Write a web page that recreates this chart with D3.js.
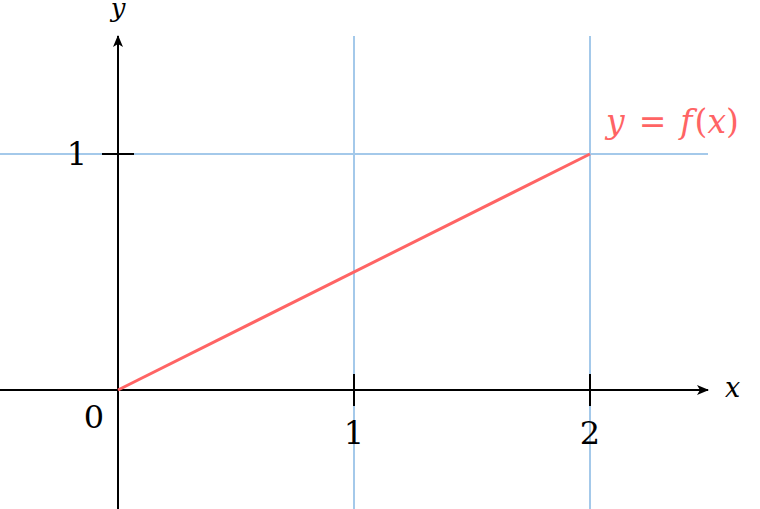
<!DOCTYPE html>
<html>
<head>
<meta charset="utf-8">
<script src="https://cdn.jsdelivr.net/npm/d3@7"></script>
<style>
  html, body { margin: 0; padding: 0; background: #fff; }
  svg { display: block; }
  svg text { font-family: "DejaVu Serif"; }
</style>
</head>
<body>
<div class="canvas"></div>
<script>
// data
const lineX = [0, 2];
const lineY = [0, 1];
const xTicks = [1, 2];
const yTicks = [1];
const xGrid = [1, 2];
const yGrid = [1];

const width = 760;
const height = 509;

const svg = d3.select('.canvas')
    .append('svg')
    .attr('width', width)
    .attr('height', height)

// scales (same unit both ways)
const x = d3.scaleLinear().domain([-0.5, 2.5]).range([0, 708]);
const y = d3.scaleLinear().domain([-0.5, 1.5]).range([508, 36]);

const red = '#ff6464';
const blue = '#a4c9ea';

// grid
svg.append('g').selectAll('line')
    .data(xGrid)
    .enter().append('line')
    .attr('x1', d => x(d)).attr('x2', d => x(d))
    .attr('y1', y(1.5)).attr('y2', height)
    .attr('stroke', blue)
    .attr('stroke-width', 2)

svg.append('g').selectAll('line')
    .data(yGrid)
    .enter().append('line')
    .attr('x1', 0).attr('x2', x(2.5))
    .attr('y1', d => y(d)).attr('y2', d => y(d))
    .attr('stroke', blue)
    .attr('stroke-width', 2)

// arrow marker
svg.append('defs').append('marker')
    .attr('id', 'arrow')
    .attr('viewBox', '0 0 12 10')
    .attr('refX', 11)
    .attr('refY', 5)
    .attr('markerWidth', 12)
    .attr('markerHeight', 10)
    .attr('markerUnits', 'userSpaceOnUse')
    .attr('orient', 'auto')
    .append('path')
    .attr('d', 'M0,0 L12,5 L0,10 L3,5 Z')
    .attr('fill', '#000')

// axes
svg.append('line')
    .attr('x1', 0).attr('x2', x(2.5))
    .attr('y1', y(0)).attr('y2', y(0))
    .attr('stroke', '#000')
    .attr('stroke-width', 2)
    .attr('marker-end', 'url(#arrow)')

svg.append('line')
    .attr('x1', x(0)).attr('x2', x(0))
    .attr('y1', height).attr('y2', y(1.5))
    .attr('stroke', '#000')
    .attr('stroke-width', 2)
    .attr('marker-end', 'url(#arrow)')

// ticks
svg.append('g').selectAll('line')
    .data(xTicks)
    .enter().append('line')
    .attr('x1', d => x(d)).attr('x2', d => x(d))
    .attr('y1', y(0) - 16).attr('y2', y(0) + 16)
    .attr('stroke', '#000')
    .attr('stroke-width', 2)

svg.append('g').selectAll('line')
    .data(yTicks)
    .enter().append('line')
    .attr('x1', x(0) - 16).attr('x2', x(0) + 16)
    .attr('y1', d => y(d)).attr('y2', d => y(d))
    .attr('stroke', '#000')
    .attr('stroke-width', 2)

// tick labels
svg.append('g').selectAll('text')
    .data(xTicks)
    .enter().append('text')
    .attr('x', d => x(d))
    .attr('y', y(0) + 54)
    .attr('text-anchor', 'middle')
    .attr('font-size', 32)
    .text(d => d)

svg.append('g').selectAll('text')
    .data(yTicks)
    .enter().append('text')
    .attr('x', x(0) - 31)
    .attr('y', d => y(d) + 11)
    .attr('text-anchor', 'end')
    .attr('font-size', 32)
    .text(d => d)

svg.append('text')
    .attr('x', x(0) - 14)
    .attr('y', y(0) + 38)
    .attr('text-anchor', 'end')
    .attr('font-size', 32)
    .text('0')

// axis names
svg.append('text')
    .attr('x', x(0))
    .attr('y', 17)
    .attr('text-anchor', 'middle')
    .attr('font-size', 26)
    .attr('font-style', 'italic')
    .text('y')

svg.append('text')
    .attr('x', x(2.5) + 17)
    .attr('y', y(0) + 7)
    .attr('font-size', 27)
    .attr('font-style', 'italic')
    .text('x')

// function line
const line = d3.line()
    .x(d => x(d[0]))
    .y(d => y(d[1]));

svg.append('path')
    .datum(lineX.map((v, i) => [v, lineY[i]]))
    .attr('fill', 'none')
    .attr('stroke', red)
    .attr('stroke-width', 3)
    .attr('d', line)

// label y = f(x)
const lab = svg.append('text')
    .attr('x', x(lineX[1]) + 16)
    .attr('y', y(lineY[1]) - 21)
    .attr('font-size', 33)
    .attr('fill', red)
lab.append('tspan').attr('font-style', 'italic').text('y')
lab.append('tspan').attr('dx', 14).text('=')
lab.append('tspan').attr('dx', 14).attr('font-style', 'italic').text('f')
lab.append('tspan').attr('dx', 2).text('(')
lab.append('tspan').attr('font-style', 'italic').text('x')
lab.append('tspan').text(')')
</script>
</body>
</html>
